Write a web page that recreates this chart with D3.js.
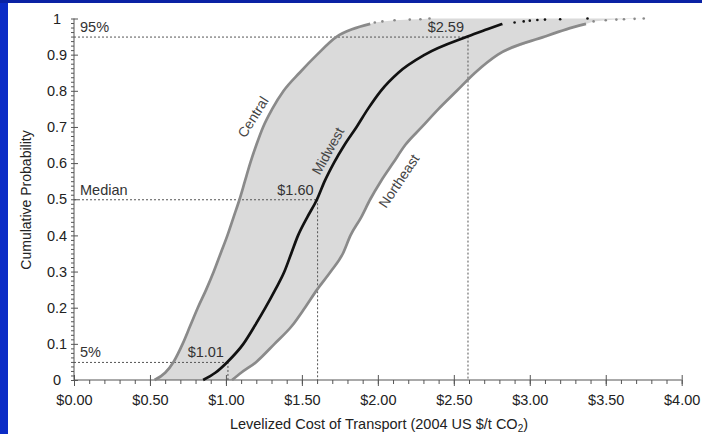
<!DOCTYPE html>
<html>
<head>
<meta charset="utf-8">
<script src="https://cdn.jsdelivr.net/npm/d3@7"></script>
<style>
  html, body { margin: 0; padding: 0; background: #ffffff; }
  svg { display: block; }
  text { font-family: "Liberation Sans", Arial, sans-serif; }
</style>
</head>
<body>
<svg id="chart" width="702" height="434"></svg>
<script>
// Cumulative probability levels shared by the three main curves
const probGrid = [0, 0.02, 0.05, 0.10, 0.15, 0.20, 0.25, 0.30, 0.35, 0.40, 0.45,
                  0.50, 0.55, 0.60, 0.65, 0.70, 0.75, 0.80, 0.85, 0.90, 0.95, 0.97, 0.985];

// Levelized transport cost ($/t CO2) at each probability level
const centralCost   = [0.53, 0.60, 0.655, 0.715, 0.765, 0.815, 0.87, 0.92, 0.965, 1.01, 1.05,
                       1.09, 1.125, 1.16, 1.20, 1.245, 1.305, 1.38, 1.485, 1.60, 1.73, 1.83, 1.95];
const midwestCost   = [0.85, 0.93, 1.01, 1.115, 1.19, 1.26, 1.325, 1.385, 1.43, 1.475, 1.535,
                       1.60, 1.65, 1.71, 1.78, 1.86, 1.935, 2.02, 2.135, 2.31, 2.59, 2.72, 2.82];
const northeastCost = [1.04, 1.10, 1.20, 1.32, 1.435, 1.52, 1.60, 1.69, 1.77, 1.82, 1.89,
                       1.95, 2.02, 2.10, 2.18, 2.29, 2.40, 2.52, 2.64, 2.79, 3.10, 3.24, 3.37];

// Sparse upper tails (individual trials near the top)
const centralTailP      = [0.989, 0.992, 0.995, 0.997, 0.998, 1.0];
const centralTailCost   = [1.98, 2.03, 2.11, 2.21, 2.28, 2.34];
const midwestTailP      = [0.989, 0.992, 0.994, 0.996, 0.997, 0.998, 1.0];
const midwestTailCost   = [2.90, 2.96, 3.00, 3.05, 3.10, 3.20, 3.38];
const northeastTailP    = [0.992, 0.995, 0.997, 0.998, 0.999, 1.0];
const northeastTailCost = [3.42, 3.50, 3.57, 3.62, 3.69, 3.75];

// Reference percentiles of the Midwest curve
const refProbs = [0.05, 0.5, 0.95];
const refCosts = [1.01, 1.60, 2.59];
const refTags  = ["5%", "Median", "95%"];

// Axis ticks
const xTicks = [0, 0.5, 1, 1.5, 2, 2.5, 3, 3.5, 4];
const yTicks = [0, 0.1, 0.2, 0.3, 0.4, 0.5, 0.6, 0.7, 0.8, 0.9, 1];

const FONT = "'Liberation Sans', Arial, sans-serif";
const svg = d3.select("#chart");

// slide frame
svg.append("rect").attr("x", 0).attr("y", 0).attr("width", 702).attr("height", 434).attr("fill", "#ffffff");
svg.append("rect").attr("x", 0).attr("y", 0).attr("width", 8).attr("height", 434).attr("fill", "#0b2cc6");
svg.append("rect").attr("x", 0).attr("y", 0).attr("width", 702).attr("height", 3).attr("fill", "#0a22a4");

const x = d3.scaleLinear().domain([0, 4]).range([74, 681.7]);
const y = d3.scaleLinear().domain([0, 1]).range([380, 18.5]);

const pts = (costs, probs) => costs.map((c, i) => [c, probs[i]]);
const central   = pts(centralCost, probGrid);
const midwest   = pts(midwestCost, probGrid);
const northeast = pts(northeastCost, probGrid);
const centralTail   = pts(centralTailCost, centralTailP);
const midwestTail   = pts(midwestTailCost, midwestTailP);
const northeastTail = pts(northeastTailCost, northeastTailP);

// shaded band between Central and Northeast
const band = central.concat(centralTail, northeastTail.slice().reverse(), northeast.slice().reverse());
svg.append("path")
  .attr("d", d3.line().x(d => x(d[0])).y(d => y(d[1]))(band) + "Z")
  .attr("fill", "#dadada");

// reference lines
const refG = svg.append("g").attr("stroke", "#555").attr("stroke-width", 1).attr("stroke-dasharray", "2,2");
refProbs.forEach((p, i) => {
  refG.append("line").attr("x1", x(0)).attr("x2", x(refCosts[i])).attr("y1", y(p) + 0.5).attr("y2", y(p) + 0.5);
  refG.append("line").attr("x1", x(refCosts[i]) + 0.5).attr("x2", x(refCosts[i]) + 0.5).attr("y1", y(p)).attr("y2", y(0));
});

// axes
const xAxisG = svg.append("g").attr("transform", `translate(0,${y(0)})`)
  .call(d3.axisBottom(x).tickValues(d3.range(0, 4.0001, 0.1)).tickSize(4).tickFormat(""));
xAxisG.call(g => g.select(".domain").remove());
const xMajor = svg.append("g").attr("transform", `translate(0,${y(0)})`)
  .call(d3.axisBottom(x).tickValues(xTicks).tickSize(6).tickPadding(9).tickFormat(d => "$" + d3.format(".2f")(d)));
xMajor.selectAll(".tick line").attr("y1", -5);
xMajor.select(".domain").attr("d", `M${x(0)},0H${x(4)}`);

const yAxisMinor = svg.append("g").attr("transform", `translate(${x(0)},0)`)
  .call(d3.axisLeft(y).tickValues(d3.range(0, 1.0001, 0.0125)).tickSize(3).tickFormat(""));
yAxisMinor.call(g => g.select(".domain").remove());
const yMajor = svg.append("g").attr("transform", `translate(${x(0)},0)`)
  .call(d3.axisLeft(y).tickValues(yTicks).tickSize(4).tickPadding(0).tickFormat(d => d3.format("")(+d.toFixed(1))));
yMajor.selectAll(".tick line").attr("x2", 4);
yMajor.selectAll(".tick text").attr("text-anchor", "middle").attr("x", -17);
yMajor.select(".domain").attr("d", `M0,${y(0)}V${y(1)}`);

svg.selectAll(".domain, .tick line").attr("stroke", "#555");
svg.selectAll(".tick text").attr("fill", "#222")
  .style("font-size", "14.5px").style("font-family", FONT);

// curves
const line = d3.line().x(d => x(d[0])).y(d => y(d[1])).curve(d3.curveMonotoneX);
const series = [
  { main: central,   tail: centralTail,   color: "#8a8a8a" },
  { main: northeast, tail: northeastTail, color: "#8a8a8a" },
  { main: midwest,   tail: midwestTail,   color: "#111111" }
];
series.forEach(s => {
  svg.append("path").attr("d", line(s.main)).attr("fill", "none")
    .attr("stroke", s.color).attr("stroke-width", 2.7).attr("stroke-linejoin", "round");
  svg.append("g").selectAll("circle").data(s.tail).join("circle")
    .attr("cx", d => x(d[0])).attr("cy", d => y(d[1])).attr("r", 1.3).attr("fill", s.color);
});

// percentile labels
refProbs.forEach((p, i) => {
  svg.append("text").attr("x", 80).attr("y", y(p) - 4.5)
    .style("font-size", "14.5px").attr("fill", "#333").text(refTags[i]);
  svg.append("text").attr("x", x(refCosts[i]) - 3.5).attr("y", y(p) - 4.5)
    .attr("text-anchor", "end").style("font-size", "14.5px").attr("fill", "#333")
    .text("$" + d3.format(".2f")(refCosts[i]));
});

// curve names
const names = [
  { t: "Central",   cx: 253, cy: 117, a: -58 },
  { t: "Midwest",   cx: 328, cy: 151, a: -61 },
  { t: "Northeast", cx: 399, cy: 181, a: -56 }
];
names.forEach(n => {
  svg.append("text").attr("transform", `translate(${n.cx},${n.cy}) rotate(${n.a})`)
    .attr("text-anchor", "middle").attr("dy", "0.35em")
    .style("font-size", "14px").attr("fill", "#444").text(n.t);
});

// axis titles
const xTitle = svg.append("text").attr("x", 379).attr("y", 428.5)
  .attr("text-anchor", "middle").style("font-size", "14.5px").attr("fill", "#222");
xTitle.append("tspan").text("Levelized Cost of Transport (2004 US $/t CO");
xTitle.append("tspan").style("font-size", "10px").attr("dy", 3).text("2");
xTitle.append("tspan").attr("dy", -3).text(")");

svg.append("text").attr("transform", "translate(26,200) rotate(-90)")
  .attr("text-anchor", "middle").attr("dy", "0.35em")
  .style("font-size", "14px").attr("fill", "#222").text("Cumulative Probability");
</script>
</body>
</html>
